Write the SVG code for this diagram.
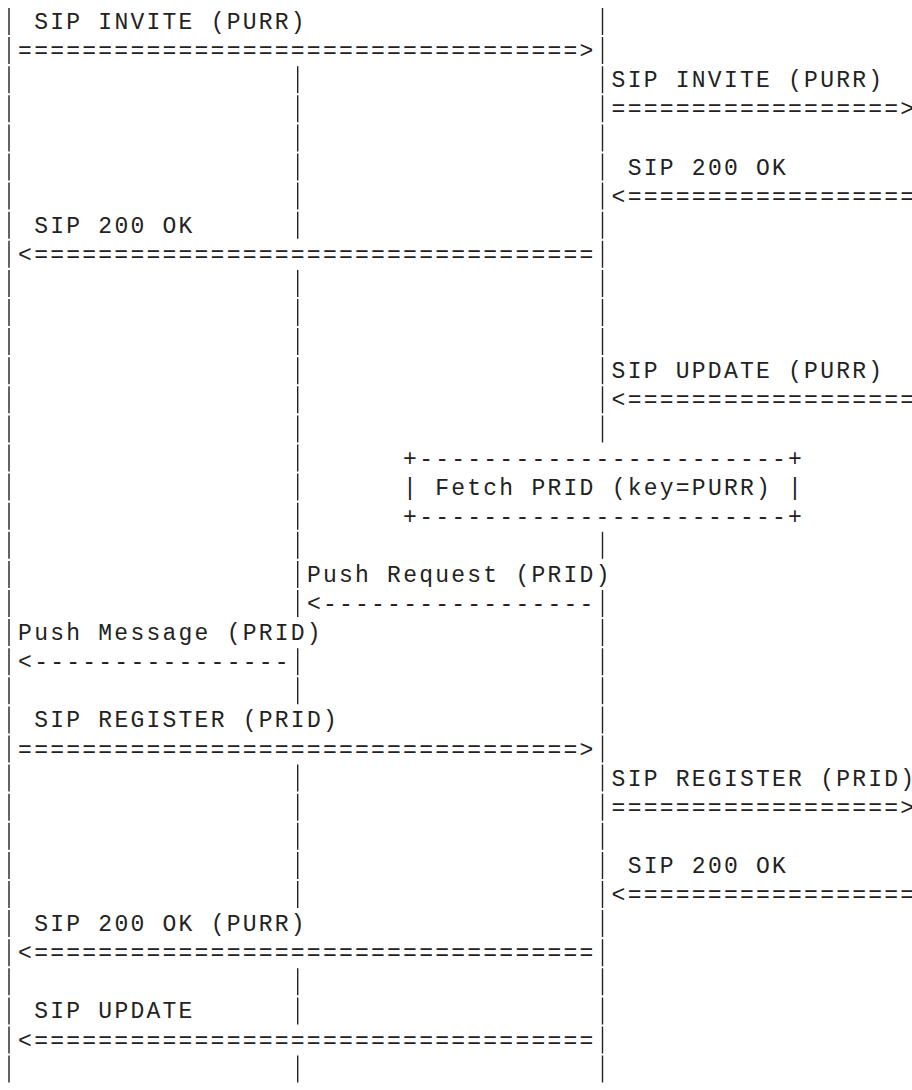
<svg xmlns="http://www.w3.org/2000/svg" width="912" height="1090" viewBox="0 0 912 1090">
<style>
.t{font-family:"Liberation Mono","Courier New",monospace;font-size:23px;letter-spacing:2.24px;fill:#222;white-space:pre}
.ll{stroke:#222;stroke-width:1.4;stroke-dasharray:27 2.1;fill:none}
</style>
<rect width="912" height="1090" fill="#fff"/>
<g id="lifeline-ua">
<line class="ll" x1="9" y1="8" x2="9" y2="1082.6"/>
</g>
<g id="lifeline-push-server">
<line class="ll" x1="297.7" y1="66.2" x2="297.7" y2="238.7"/>
<line class="ll" x1="297.7" y1="269.9" x2="297.7" y2="617"/>
<line class="ll" x1="297.7" y1="648.2" x2="297.7" y2="704.3"/>
<line class="ll" x1="297.7" y1="764.6" x2="297.7" y2="908"/>
<line class="ll" x1="297.7" y1="968.3" x2="297.7" y2="1024.4"/>
<line class="ll" x1="297.7" y1="1055.6" x2="297.7" y2="1082.6"/>
</g>
<g id="lifeline-proxy">
<line class="ll" x1="602.5" y1="8" x2="602.5" y2="442.4"/>
<line class="ll" x1="602.5" y1="531.8" x2="602.5" y2="558.8"/>
<line class="ll" x1="602.5" y1="590" x2="602.5" y2="1082.6"/>
</g>
<g id="fetch-prid">
<text class="t" x="403.1" y="465.5">+-----------------------+</text>
<text class="t" x="403.1" y="494.6">| Fetch PRID (key=PURR) |</text>
<text class="t" x="403.1" y="523.7">+-----------------------+</text>
</g>
<g id="labels">
<text class="t" x="34.2" y="29">SIP INVITE (PURR)</text>
<text class="t" x="611.6" y="87.2">SIP INVITE (PURR)</text>
<text class="t" x="627.7" y="174.5">SIP 200 OK</text>
<text class="t" x="34.2" y="232.7">SIP 200 OK</text>
<text class="t" x="611.6" y="378.2">SIP UPDATE (PURR)</text>
<text class="t" x="306.9" y="581.9">Push Request (PRID)</text>
<text class="t" x="18.1" y="640.1">Push Message (PRID)</text>
<text class="t" x="34.2" y="727.4">SIP REGISTER (PRID)</text>
<text class="t" x="611.6" y="785.6">SIP REGISTER (PRID)</text>
<text class="t" x="627.7" y="872.9">SIP 200 OK</text>
<text class="t" x="34.2" y="931.1">SIP 200 OK (PURR)</text>
<text class="t" x="34.2" y="1018.4">SIP UPDATE</text>
</g>
<g id="connectors">
<text class="t" x="18.1" y="58.1">===================================&gt;</text>
<text class="t" x="611.6" y="116.3">==================&gt;</text>
<text class="t" x="611.6" y="203.6">&lt;==================</text>
<text class="t" x="18.1" y="261.8">&lt;===================================</text>
<text class="t" x="611.6" y="407.3">&lt;==================</text>
<text class="t" x="306.9" y="611">&lt;-----------------</text>
<text class="t" x="18.1" y="669.2">&lt;----------------</text>
<text class="t" x="18.1" y="756.5">===================================&gt;</text>
<text class="t" x="611.6" y="814.7">==================&gt;</text>
<text class="t" x="611.6" y="902">&lt;==================</text>
<text class="t" x="18.1" y="960.2">&lt;===================================</text>
<text class="t" x="18.1" y="1047.5">&lt;===================================</text>
</g>
</svg>
